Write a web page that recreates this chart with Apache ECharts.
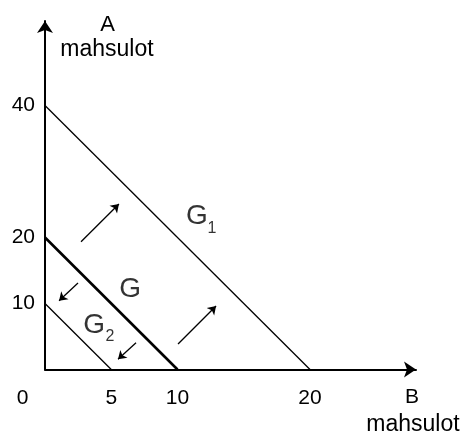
<!DOCTYPE html>
<html style="height: 100%">
<head>
<meta charset="UTF-8">
<title>Budget lines</title>
<script src="https://cdn.jsdelivr.net/npm/echarts@6/dist/echarts.min.js"></script>
</head>
<body style="height: 100%;margin: 0;background:#fff">
<div id="chart" style="width:463px;height:434px"></div>
<script type="text/javascript">
// tick labels on the axes
var xTicks = [5, 10, 20];
var yTicks = [10, 20, 40];

// budget lines: [A intercept, B intercept]
var lineG1 = [[0, 40], [20, 0]];
var lineG = [[0, 20], [10, 0]];
var lineG2 = [[0, 10], [5, 0]];

// shift arrows, from -> to
var arrowsOut = [
	[[2.72, 19.36], [5.58, 25.08]],
	[[10.04, 3.86], [12.91, 9.62]]
];
var arrowsIn = [
	[[2.49, 13.1], [1.06, 10.42]],
	[[6.87, 4.06], [5.51, 1.55]]
];

// line names and their subscripts [text, x, y]
var bigLabels = [['G', 11.47, 23.26], ['G', 6.42, 12.2], ['G', 3.70, 6.74]];
var subLabels = [['1', 12.6, 21.36], ['2', 4.91, 5.0]];

var font = "'Liberation Sans', Arial, sans-serif";

function toArrows(list){
	var out = [];
	for(var i=0;i<list.length;i++){
		out.push({coords: list[i]});
	}
	return out;
}

function toText(list){
	var out = [];
	for(var i=0;i<list.length;i++){
		out.push({value: [list[i][1], list[i][2]], name: list[i][0]});
	}
	return out;
}

var myChart = echarts.init(document.getElementById("chart"));
var option = {
	animation: false,
	grid: {left: 45, right: 47, top: 21, bottom: 64.5},
	xAxis: {
		type: 'value', min: 0, max: 28,
		splitLine: {show: false},
		axisTick: {show: false},
		axisLine: {show: true, symbol: ['none', 'arrow'], symbolSize: [12, 12],
			lineStyle: {color: '#000', width: 2}},
		axisLabel: {customValues: xTicks, color: '#000', fontSize: 21, fontFamily: font, margin: 18}
	},
	yAxis: {
		type: 'value', min: 0, max: 52.8,
		splitLine: {show: false},
		axisTick: {show: false},
		axisLine: {show: true, symbol: ['none', 'arrow'], symbolSize: [12, 12],
			lineStyle: {color: '#000', width: 2}},
		axisLabel: {customValues: yTicks, color: '#000', fontSize: 21, fontFamily: font, margin: 10}
	},
	graphic: [
		{type: 'text', x: 107.5, y: 25, style: {text: 'A', fill: '#000', font: '22px ' + font, textAlign: 'center', textVerticalAlign: 'middle'}},
		{type: 'text', x: 107, y: 50, style: {text: 'mahsulot', fill: '#000', font: '23px ' + font, textAlign: 'center', textVerticalAlign: 'middle'}},
		{type: 'text', x: 412, y: 397, style: {text: 'B', fill: '#000', font: '21px ' + font, textAlign: 'center', textVerticalAlign: 'middle'}},
		{type: 'text', x: 413, y: 425, style: {text: 'mahsulot', fill: '#000', font: '23px ' + font, textAlign: 'center', textVerticalAlign: 'middle'}},
		{type: 'text', x: 22.5, y: 398, style: {text: '0', fill: '#000', font: '21px ' + font, textAlign: 'center', textVerticalAlign: 'middle'}}
	],
	series: [
		{type: 'line', data: lineG1, symbol: 'none', lineStyle: {color: '#000', width: 1.3}},
		{type: 'line', data: lineG, symbol: 'none', lineStyle: {color: '#000', width: 2.6}},
		{type: 'line', data: lineG2, symbol: 'none', lineStyle: {color: '#000', width: 1.3}},
		{
			type: 'lines', coordinateSystem: 'cartesian2d',
			data: toArrows(arrowsOut.concat(arrowsIn)),
			symbol: ['none', 'arrow'], symbolSize: 8,
			lineStyle: {color: '#000', width: 1.3, opacity: 1}
		},
		{
			type: 'scatter', symbolSize: 0, data: toText(bigLabels),
			label: {show: true, position: 'inside', formatter: '{b}', color: '#000', fontSize: 28, fontFamily: font}
		},
		{
			type: 'scatter', symbolSize: 0, data: toText(subLabels),
			label: {show: true, position: 'inside', formatter: '{b}', color: '#000', fontSize: 16, fontFamily: font}
		}
	]
};
myChart.setOption(option, true);
</script>
</body>
</html>
